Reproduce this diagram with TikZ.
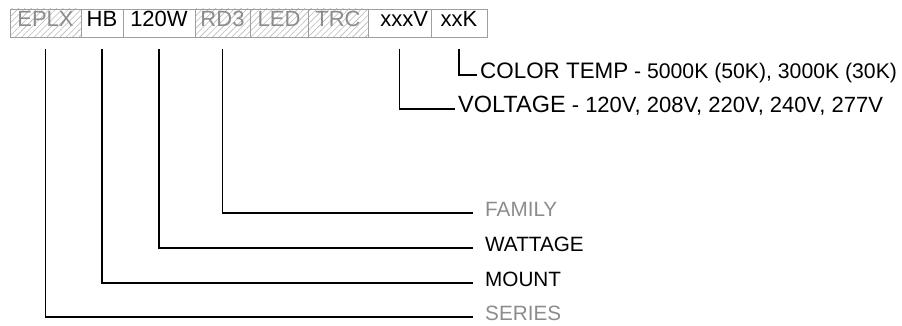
\documentclass[tikz,border=0pt]{standalone}
\usepackage{fontspec}
\setmainfont{Liberation Sans}
\usetikzlibrary{positioning,patterns.meta}
\definecolor{codegray}{HTML}{8C8C8C}
\newcommand{\valsize}[1]{\fontsize{#1}{#1}\selectfont}

\begin{document}
\begin{tikzpicture}[x=1pt, y=-1pt,
    code/.style={draw=gray!75, line width=0.8pt, minimum height=28pt, inner sep=0pt, outer sep=0pt,
      text height=0.72em, text depth=0pt, font=\fontsize{22}{22}\selectfont},
    plaincode/.style={code, fill=white, text=black},
    hatchcode/.style={code, text=codegray, pattern={Lines[angle=45,distance=4.5pt,line width=0.6pt]}, pattern color=gray!55},
    conn/.style={line width=1.9pt, black},
    lead/.style={anchor=west, inner xsep=12pt, inner ysep=0pt, text height=0.72em, text depth=0pt,
      font=\fontsize{20.7}{20.7}\selectfont},
    spec/.style={anchor=west, inner xsep=3pt, inner ysep=0pt, text height=0.72em, text depth=0pt,
      font=\fontsize{22.4}{22.4}\selectfont}
  ]
  \useasboundingbox (0,0) rectangle (902,326);
  % catalogue code boxes
  \node[hatchcode, minimum width=71pt, anchor=north west] (eplx) at (10,9) {EPLX};
  \node[plaincode, minimum width=42pt, right=0pt of eplx] (hb) {HB};
  \node[plaincode, minimum width=72pt, right=0pt of hb] (watt) {120W};
  \node[hatchcode, minimum width=55pt, right=0pt of watt] (rdthree) {RD3};
  \node[hatchcode, minimum width=58pt, right=0pt of rdthree] (led) {LED};
  \node[hatchcode, minimum width=60pt, right=0pt of led] (trc) {TRC};
  \node[plaincode, minimum width=63pt, right=0pt of trc, text width=57pt, align=right] (volt) {xxxV};
  \node[plaincode, minimum width=56pt, right=0pt of volt] (temp) {xxK};
  % option labels
  \node[spec] (templbl) at (477,75) {COLOR TEMP\valsize{21.2} - 5000K (50K), 3000K (30K)};
  \node[spec, font=\fontsize{23.5}{23.5}\selectfont] (voltlbl) at (455,109) {VOLTAGE\valsize{22} - 120V, 208V, 220V, 240V, 277V};
  \node[lead, text=codegray] (family) at (473,213) {FAMILY};
  \node[lead] (wattage) at (473,248) {WATTAGE};
  \node[lead] (mount) at (473,283) {MOUNT};
  \node[lead, text=codegray] (series) at (473,317) {SERIES};
  % leaders
  \draw[conn] ([yshift=-12pt]temp.south) |- (templbl.west);
  \draw[conn] ([yshift=-12pt]volt.south) |- (voltlbl.west);
  \draw[conn] ([yshift=-12pt]rdthree.south) |- (family.west);
  \draw[conn] ([yshift=-12pt]watt.south) |- (wattage.west);
  \draw[conn] ([yshift=-12pt]hb.south) |- (mount.west);
  \draw[conn] ([yshift=-12pt]eplx.south) |- (series.west);
\end{tikzpicture}
\end{document}
